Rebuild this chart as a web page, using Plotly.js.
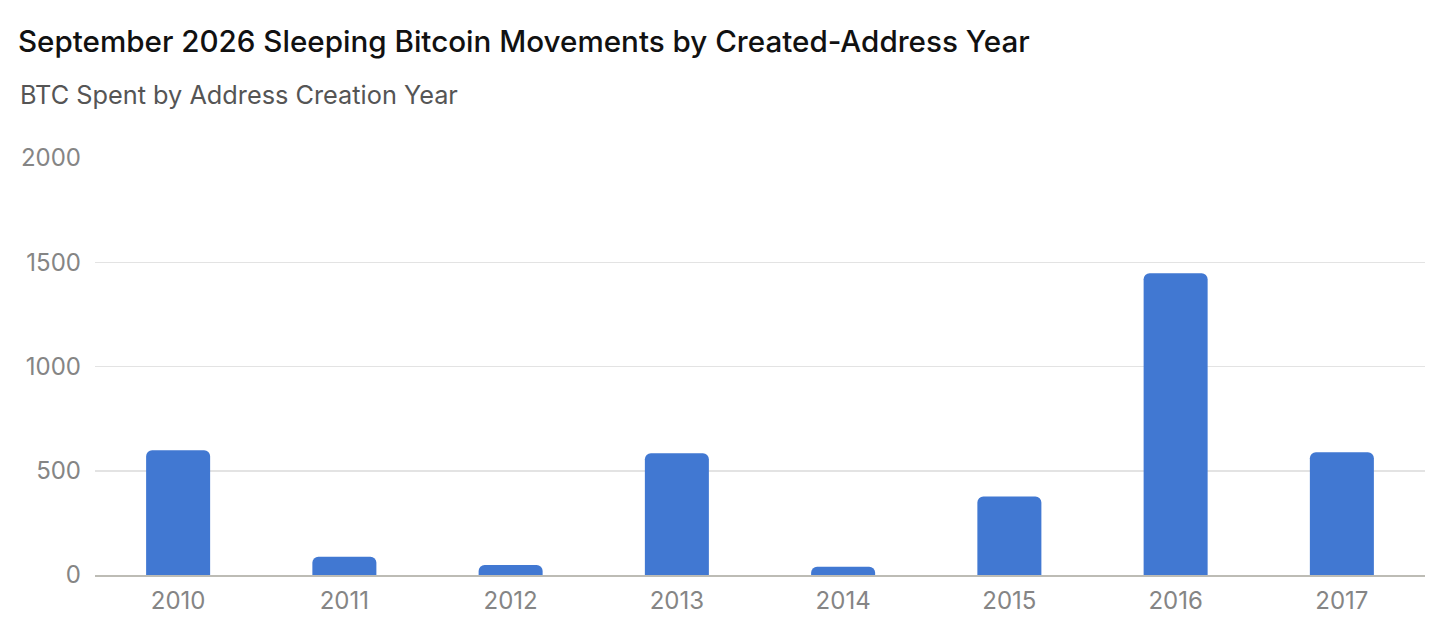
<!DOCTYPE html>
<html>
<head>
<meta charset="utf-8">
<script src="https://cdn.plot.ly/plotly-3.0.1.min.js"></script>
<style>
  html, body { margin: 0; padding: 0; background: #ffffff; }
  #chart { width: 1442px; height: 642px; }
</style>
</head>
<body>
<div id="chart"></div>
<script>
const years = ["2010", "2011", "2012", "2013", "2014", "2015", "2016", "2017"];
const btcSpent = [598, 88, 48, 584, 40, 376, 1447, 589];
const yTicks = [0, 500, 1000, 1500, 2000];

const titleText = "September 2026 Sleeping Bitcoin Movements by Created-Address Year";
const subtitleText = "BTC Spent by Address Creation Year";

const trace = {
  type: "bar",
  x: years,
  y: btcSpent,
  marker: { color: "#4178D2", cornerradius: 6 },
  hoverinfo: "x+y"
};

const layout = {
  width: 1442,
  height: 642,
  paper_bgcolor: "#ffffff",
  plot_bgcolor: "#ffffff",
  margin: { l: 95, r: 17, t: 158, b: 67 },
  font: { family: "Inter, 'Noto Sans', sans-serif", color: "#888888" },
  bargap: 0.615,
  showlegend: false,
  title: {
    text: titleText,
    font: { family: "Inter, 'Noto Sans', sans-serif", size: 29.6, weight: 500, color: "#111111" },
    xref: "container",
    yref: "container",
    x: 18 / 1442,
    xanchor: "left",
    y: 1 - 42 / 642,
    yanchor: "middle"
  },
  annotations: [{
    text: subtitleText,
    xref: "paper",
    yref: "paper",
    x: -77 / 1330,
    xanchor: "left",
    y: 1,
    yanchor: "middle",
    yshift: 64,
    showarrow: false,
    font: { family: "Inter, 'Noto Sans', sans-serif", size: 25.3, color: "#555555" }
  }],
  xaxis: {
    type: "category",
    showgrid: false,
    showline: true,
    linecolor: "#BDBCB5",
    linewidth: 2,
    ticks: "",
    tickfont: { size: 24, color: "#858585" },
    ticklabelstandoff: 3,
    zeroline: false
  },
  yaxis: {
    range: [0, 2000],
    tickvals: yTicks,
    ticktext: yTicks.map(String),
    showgrid: true,
    gridcolor: "#E3E3E3",
    gridwidth: 1.5,
    zeroline: false,
    showline: false,
    ticks: "",
    tickfont: { size: 24, color: "#858585" },
    ticklabelstandoff: 13
  }
};

Plotly.newPlot("chart", [trace], layout, { displayModeBar: false, staticPlot: true });
</script>
</body>
</html>
